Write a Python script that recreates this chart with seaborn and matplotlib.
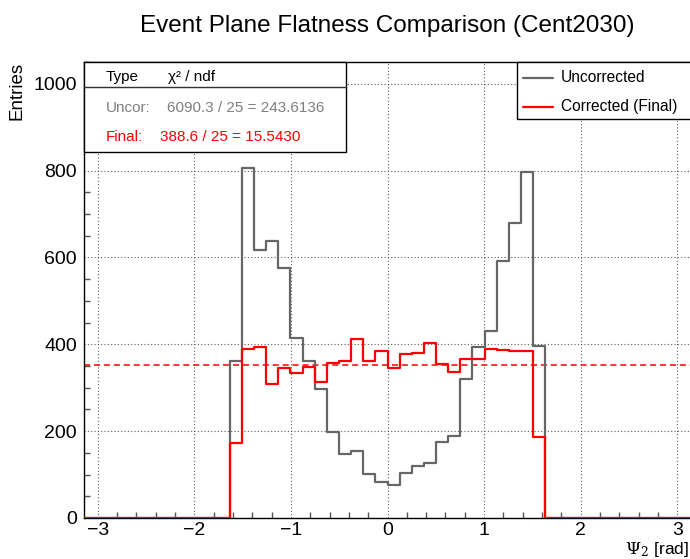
import numpy as np
import pandas as pd
import matplotlib
matplotlib.use("Agg")
import matplotlib.pyplot as plt
from matplotlib.patches import Rectangle
from matplotlib.lines import Line2D
from matplotlib.ticker import MultipleLocator
import seaborn as sns

# 50 bins over [-pi, pi]; only bins 12..37 are populated
n_bins = 50
first_filled = 12
uncorrected = [361, 805, 618, 638, 575, 415, 362, 298, 199, 147, 155, 101, 84,
               76, 104, 120, 127, 176, 189, 319, 393, 430, 592, 680, 797, 397]
corrected = [173, 390, 393, 308, 346, 335, 348, 314, 358, 361, 412, 362, 385,
             346, 377, 381, 404, 354, 337, 366, 367, 389, 387, 385, 385, 187]
series_names = ["Uncorrected", "Corrected (Final)"]
x_ticks = [-3, -2, -1, 0, 1, 2, 3]
y_ticks = [0, 200, 400, 600, 800, 1000]
chi2_rows = [("Uncor:", "6090.3 / 25 = 243.6136"),
             ("Final:", "388.6 / 25 = 15.5430")]

edges = np.linspace(-np.pi, np.pi, n_bins + 1)
centers = 0.5 * (edges[:-1] + edges[1:])


def full_counts(vals):
    out = np.zeros(n_bins)
    out[first_filled:first_filled + len(vals)] = vals
    return out


df = pd.DataFrame({
    "psi": np.concatenate([centers, centers]),
    "count": np.concatenate([full_counts(uncorrected), full_counts(corrected)]),
    "type": [series_names[0]] * n_bins + [series_names[1]] * n_bins,
})

sns.set_theme(style="white")
plt.rcParams["font.family"] = ["Liberation Sans", "DejaVu Sans"]
plt.rcParams["mathtext.fontset"] = "dejavuserif"
plt.rcParams["text.color"] = "black"
plt.rcParams["axes.labelcolor"] = "black"
plt.rcParams["xtick.color"] = "black"
plt.rcParams["ytick.color"] = "black"

W, H = 690, 559
fig = plt.figure(figsize=(W / 100, H / 100), dpi=100)
L, R, T, B = 84, 691, 62, 518
ax = fig.add_axes([L / W, 1 - B / H, (R - L) / W, (B - T) / H])

gray = "#666666"
red = "#ff0000"

bin_edges = [float(e) for e in edges]
sns.histplot(data=df[df["type"] == series_names[0]], x="psi", weights="count",
             bins=bin_edges, element="step", fill=False, color=gray, lw=1.6,
             ax=ax, zorder=3)
sns.histplot(data=df[df["type"] == series_names[1]], x="psi", weights="count",
             bins=bin_edges, element="step", fill=False, color=red, lw=1.6,
             ax=ax, zorder=4)

# mean level of the corrected distribution
mean_level = np.mean(corrected)
ax.plot([-np.pi, np.pi], [mean_level, mean_level], color=red, lw=1.1,
        ls=(0, (4, 2.5)), zorder=2)

ax.set_xlim(-np.pi, np.pi)
ax.set_ylim(0, 1050)
ax.set_xticks(x_ticks)
ax.set_yticks(y_ticks)
ax.set_xticklabels([("\u2212" + str(-v) if v < 0 else str(v)) for v in x_ticks])
ax.xaxis.set_minor_locator(MultipleLocator(0.2))
ax.yaxis.set_minor_locator(MultipleLocator(50))
ax.tick_params(which="both", direction="in", top=False, right=False,
               color="#555555", labelsize=14, labelcolor="black")
ax.tick_params(which="major", length=9, width=1)
ax.tick_params(which="minor", length=4.5, width=1, bottom=True, left=True)
ax.tick_params(axis="x", pad=3)
ax.tick_params(axis="y", pad=5)
ax.grid(True, which="major", color="#333333", lw=0.8, ls=(0, (1, 2)), alpha=0.8)
ax.set_axisbelow(True)
for side in ["left", "bottom", "top", "right"]:
    ax.spines[side].set_color("black")
    ax.spines[side].set_linewidth(1.0)
ax.set_xlabel("")
ax.set_ylabel("")


def fx(px):
    return px / W


def fy(py):
    return 1 - py / H


fig.text(fx(387), fy(26), "Event Plane Flatness Comparison (Cent2030)",
         ha="center", va="center", fontsize=17.5)
fig.text(fx(17), fy(62), "Entries", rotation=90, ha="center", va="top",
         fontsize=13.5)
fig.text(fx(689), fy(559), r"$\Psi_2$ [rad]", ha="right", va="bottom",
         fontsize=12.5)

# chi2 summary box
fig.add_artist(Rectangle((fx(84), fy(152)), fx(346) - fx(84), fy(62) - fy(152),
                         transform=fig.transFigure, facecolor="white",
                         edgecolor="black", lw=1.0, zorder=5))
fig.add_artist(Line2D([fx(84), fx(346)], [fy(87), fy(87)],
                      transform=fig.transFigure, color="#333333", lw=1.0,
                      zorder=6))
fig.text(fx(106), fy(77), "Type", ha="left", va="center", fontsize=11,
         zorder=7)
fig.text(fx(168), fy(77), "\u03c7\u00b2 / ndf", ha="left", va="center",
         fontsize=11, zorder=7)
row_colors = ["#7f7f7f", red]
row_y = [108, 137]
row_x = [167, 160]
for (lab, val), c, y, xv in zip(chi2_rows, row_colors, row_y, row_x):
    fig.text(fx(106), fy(y), lab, ha="left", va="center", fontsize=11,
             color=c, zorder=7)
    fig.text(fx(xv), fy(y), val, ha="left", va="center", fontsize=11,
             color=c, zorder=7)

# legend box
fig.add_artist(Rectangle((fx(517), fy(119)), fx(700) - fx(517), fy(62) - fy(119),
                         transform=fig.transFigure, facecolor="white",
                         edgecolor="black", lw=1.0, zorder=5))
for name, c, y in zip(series_names, [gray, red], [78, 107]):
    fig.add_artist(Line2D([fx(523), fx(553)], [fy(y), fy(y)],
                          transform=fig.transFigure, color=c, lw=1.6,
                          zorder=6))
    fig.text(fx(561), fy(y), name, ha="left", va="center", fontsize=11.2,
             zorder=7)

fig.savefig("out.png", dpi=100)
